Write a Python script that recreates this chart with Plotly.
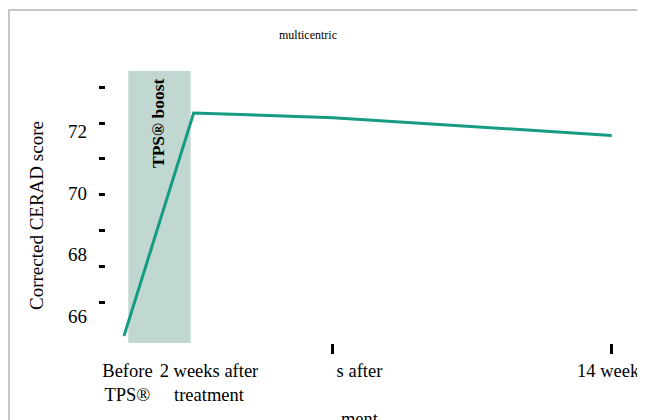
import plotly.graph_objects as go

# ---- data ----
time_points = [0, 1, 3, 7]                    # position index of each assessment
cerad_scores = [66.05, 72.28, 72.15, 71.65]    # corrected CERAD score
x_label_pos = [0.05, 1.22, 3.38, 7.0]
x_labels = ["Before<br>TPS®", "2 weeks after<br>treatment", "s after<br> <br>ment", "14 weeks"]
x_tick_marks = [3, 7]
y_minor_ticks = [67, 68, 69, 70, 71, 72, 73]
y_label_vals = [66, 68, 70, 72]
y_label_text = ["66", "68", "70", "72"]
title_text = "multicentric"
y_title = "Corrected CERAD score"
boost_text = "TPS® boost"

OFF = 8  # page body margin
W, H = 645 - OFF, 420 - OFF
L, T = 106 - OFF, 71 - OFF
R = W - (630 - OFF)
B = H - (343 - OFF)
pw, ph = W - L - R, H - T - B

def px_x(p):
    return (p - OFF - L) / pw

def px_y(p):
    return (H - B - (p - OFF)) / ph

FONT = "Liberation Serif"
TEAL = "#159c83"
FRAME = "#c6c6c6"

fig = go.Figure()
fig.add_trace(go.Scatter(x=time_points, y=cerad_scores, mode="lines",
                         line=dict(color=TEAL, width=3), xaxis="x", yaxis="y",
                         showlegend=False, hoverinfo="skip"))

xr = [-0.258, 7.263]
fig.update_layout(
    template="none",
    width=W, height=H,
    margin=dict(l=L, r=R, t=T, b=B, autoexpand=False),
    paper_bgcolor="white", plot_bgcolor="white",
    font=dict(family=FONT, color="black"),
    showlegend=False,
    xaxis=dict(range=xr, tickvals=x_label_pos, ticktext=x_labels, ticks="",
               showgrid=False, showline=False, zeroline=False, automargin=False,
               tickfont=dict(family=FONT, size=18.5, color="black"),
               ticklabelstandoff=14, ticklabeloverflow="allow"),
    xaxis2=dict(range=xr, overlaying="x", anchor="y", side="bottom",
                tickvals=x_tick_marks, ticks="outside", ticklen=10, tickwidth=3,
                tickcolor="black", showticklabels=False, showgrid=False,
                showline=False, zeroline=False, automargin=False),
    yaxis=dict(range=[65.8547, 73.4525], tickvals=y_minor_ticks, ticks="outside",
               ticklen=6, tickwidth=3, tickcolor="black", showticklabels=False,
               showgrid=False, showline=False, zeroline=False, automargin=False),
    yaxis2=dict(range=[65.122, 73.967], overlaying="y", anchor="x", side="left",
                tickvals=y_label_vals, ticktext=y_label_text, ticks="",
                showgrid=False, showline=False, zeroline=False, automargin=False,
                tickfont=dict(family=FONT, size=19, color="black"),
                ticklabelstandoff=18, ticklabeloverflow="allow"),
)
# dummy trace so xaxis2 / yaxis2 render
fig.add_trace(go.Scatter(x=[None], y=[None], xaxis="x2", yaxis="y2",
                         showlegend=False, hoverinfo="skip"))

fig.add_shape(type="rect", xref="x", yref="paper", x0=0.062, x1=0.957, y0=0, y1=1,
              fillcolor="#c0d8d1", line=dict(width=0), layer="below")
# page frame (top and left edges only)
fig.add_shape(type="line", xref="paper", yref="paper",
              x0=px_x(8), x1=px_x(660), y0=px_y(10), y1=px_y(10),
              line=dict(color=FRAME, width=2))
fig.add_shape(type="line", xref="paper", yref="paper",
              x0=px_x(9), x1=px_x(9), y0=px_y(9), y1=px_y(440),
              line=dict(color=FRAME, width=2))

fig.add_annotation(text=title_text, xref="paper", yref="paper", x=px_x(308), y=px_y(35),
                   showarrow=False, font=dict(family=FONT, size=12, color="black"),
                   xanchor="center", yanchor="middle")
fig.add_annotation(text=y_title, xref="paper", yref="paper", x=px_x(36), y=px_y(216),
                   showarrow=False, textangle=-90,
                   font=dict(family=FONT, size=19, color="black"),
                   xanchor="center", yanchor="middle")
fig.add_annotation(text="<b>" + boost_text + "</b>", xref="paper", yref="paper",
                   x=px_x(158), y=px_y(123), showarrow=False, textangle=-90,
                   font=dict(family=FONT, size=17.5, color="black"),
                   xanchor="center", yanchor="middle")

fig.write_html("out.html")
